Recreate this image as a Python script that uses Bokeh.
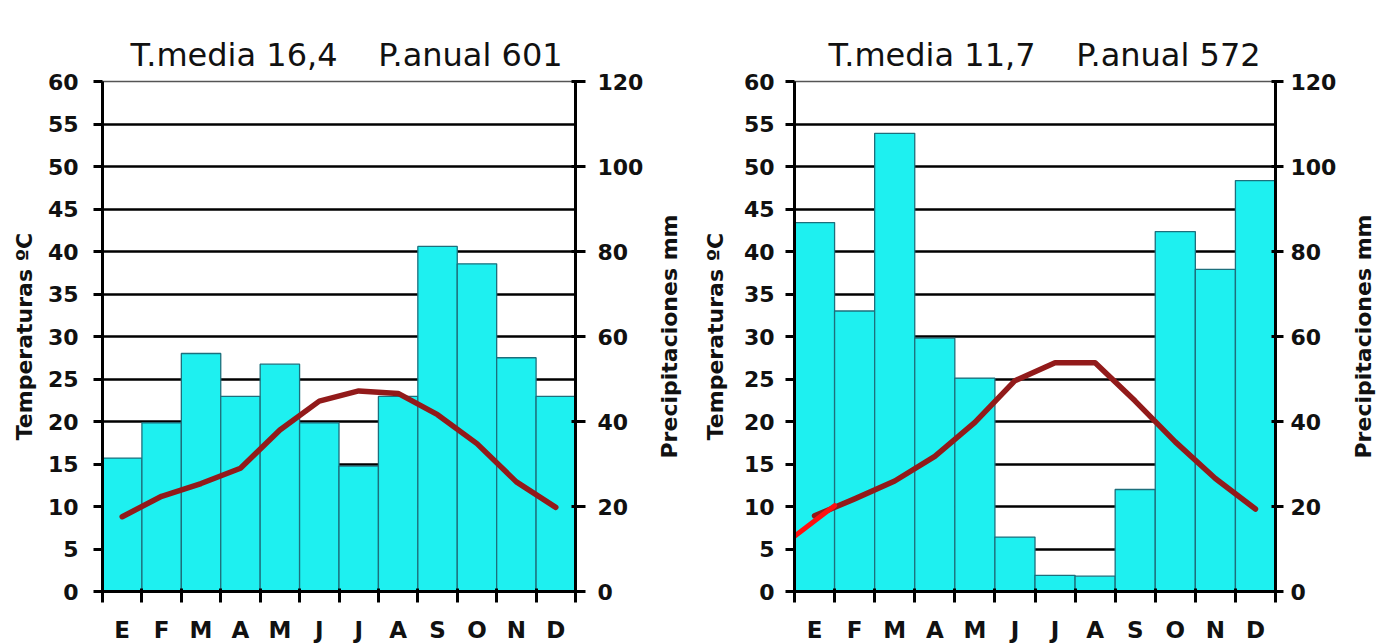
from bokeh.plotting import figure
from bokeh.models import Range1d, LinearAxis, FixedTicker
from bokeh.layouts import row
from bokeh.embed import file_html
from bokeh.resources import INLINE

# ---- data ----
meses = ["E", "F", "M", "A", "M", "J", "J", "A", "S", "O", "N", "D"]

GAP = "\u00a0" * 4

# Climograma 1
precip_1 = [31.4, 39.7, 56.0, 45.9, 53.5, 39.7, 29.5, 45.9, 81.2, 77.1, 55.0, 45.9]
temp_1 = [8.8, 11.2, 12.7, 14.5, 19.0, 22.4, 23.6, 23.3, 20.8, 17.4, 12.9, 9.9]
titulo_1 = "T.media 16,4" + GAP + "P.anual 601"

# Climograma 2
precip_2 = [86.8, 66.0, 107.8, 59.6, 50.2, 12.8, 3.8, 3.6, 24.0, 84.7, 75.8, 96.7]
temp_2 = [8.9, 10.9, 13.0, 15.9, 19.9, 24.8, 26.9, 26.9, 22.4, 17.6, 13.3, 9.7]
rojo_mes_2 = [-0.5, 0.5]
rojo_temp_2 = [6.5, 10.1]
titulo_2 = "T.media 11,7" + GAP + "P.anual 572"

temp_ticks = list(range(0, 61, 5))
precip_ticks = list(range(0, 121, 20))
grid_ticks = list(range(5, 56, 5))

ETIQ_T = "Temperaturas ºC"
ETIQ_P = "Precipitaciones mm"

FONT = "DejaVu Sans"
BAR_FILL = "#1ef0f0"
BAR_LINE = "#1d6f7c"
LINE_COLOR = "#921a1a"
TXT = "#111111"


def style_label(ax, text, standoff):
    ax.axis_label = text
    ax.axis_label_text_font = FONT
    ax.axis_label_text_font_style = "bold"
    ax.axis_label_text_font_size = "22px"
    ax.axis_label_text_color = TXT
    ax.axis_label_standoff = standoff


def label_only_axis(text, standoff):
    ax = LinearAxis(ticker=FixedTicker(ticks=[], minor_ticks=[]))
    ax.axis_line_color = None
    ax.major_tick_line_color = None
    ax.minor_tick_line_color = None
    ax.major_tick_out = 0
    ax.major_tick_in = 0
    ax.major_label_standoff = 0
    style_label(ax, text, standoff)
    return ax


def climograma(precip, temp, titulo, fw, bl, br, t_off,
               l_std, l_lbl_std, r_tick, r_std, rojo=None, outer_left=None):
    pos = list(range(len(meses)))
    p = figure(frame_width=fw, frame_height=510,
               min_border_left=bl, min_border_right=br,
               min_border_top=81, min_border_bottom=52,
               x_range=Range1d(-0.5, len(meses) - 0.5),
               y_range=Range1d(0, 60),
               output_backend="svg", toolbar_location=None, tools="")
    p.extra_y_ranges = {"precip": Range1d(0, 120)}
    p.background_fill_color = "white"
    p.border_fill_color = "white"
    p.outline_line_color = "#555555"
    p.outline_line_width = 1.5

    # title
    p.title.text = titulo
    p.title.align = "left"
    p.title.offset = t_off
    p.title.text_font = FONT
    p.title.text_font_style = "normal"
    p.title.text_font_size = "32px"
    p.title.text_color = TXT
    p.title.standoff = 15
    p.title.vertical_align = "bottom"

    p.xgrid.visible = False
    p.ygrid.ticker = FixedTicker(ticks=grid_ticks)
    p.ygrid.grid_line_color = "black"
    p.ygrid.grid_line_width = 2.6

    p.vbar(x=pos, top=precip, bottom=0, width=1.0, y_range_name="precip",
           fill_color=BAR_FILL, line_color=BAR_LINE, line_width=1.3)
    p.line(x=pos, y=temp, line_color=LINE_COLOR, line_width=5.5,
           line_join="round", line_cap="round")
    if rojo is not None:
        p.line(x=rojo[0], y=rojo[1], line_color="#ff1010", line_width=5,
               line_cap="round")

    # x axis
    xa = p.xaxis[0]
    xa.ticker = FixedTicker(ticks=pos, minor_ticks=[i - 0.5 for i in range(len(meses) + 1)])
    xa.major_label_overrides = {i: m for i, m in enumerate(meses)}
    xa.axis_line_width = 3
    xa.axis_line_color = "black"
    xa.major_tick_out = 0
    xa.major_tick_in = 0
    xa.minor_tick_out = 11
    xa.minor_tick_in = 3
    xa.minor_tick_line_width = 3
    xa.minor_tick_line_color = "black"
    xa.major_label_standoff = 14
    xa.major_label_text_font = FONT
    xa.major_label_text_font_style = "bold"
    xa.major_label_text_font_size = "23px"
    xa.major_label_text_color = TXT

    # left axis (temperature)
    ya = p.yaxis[0]
    ya.ticker = FixedTicker(ticks=temp_ticks, minor_ticks=[])
    ya.axis_line_width = 3
    ya.axis_line_color = "black"
    ya.major_tick_out = 9
    ya.major_tick_in = 0
    ya.major_tick_line_width = 3
    ya.major_tick_line_color = "black"
    ya.minor_tick_line_color = None
    ya.major_label_standoff = l_std
    ya.major_label_text_font = FONT
    ya.major_label_text_font_style = "bold"
    ya.major_label_text_font_size = "22px"
    ya.major_label_text_color = TXT
    style_label(ya, ETIQ_T, l_lbl_std)

    # label of the previous chart's precipitation axis (reads bottom to top)
    if outer_left is not None:
        p.add_layout(label_only_axis(*outer_left), "left")

    # right axis (precipitation scale)
    ra = LinearAxis(y_range_name="precip",
                    ticker=FixedTicker(ticks=precip_ticks, minor_ticks=[]))
    ra.axis_line_width = 3
    ra.axis_line_color = "black"
    ra.major_tick_out = r_tick
    ra.major_tick_in = 4
    ra.major_tick_line_width = 3
    ra.major_tick_line_color = "black"
    ra.minor_tick_line_color = None
    ra.major_label_standoff = r_std
    ra.major_label_text_font = FONT
    ra.major_label_text_font_style = "bold"
    ra.major_label_text_font_size = "22px"
    ra.major_label_text_color = TXT
    p.add_layout(ra, "right")
    return p


p1 = climograma(precip_1, temp_1, titulo_1,
                fw=473, bl=102, br=70, t_off=28,
                l_std=15, l_lbl_std=8, r_tick=10, r_std=12)
p2 = climograma(precip_2, temp_2, titulo_2,
                fw=481, bl=148, br=62, t_off=34,
                l_std=11, l_lbl_std=13, r_tick=8, r_std=7,
                rojo=(rojo_mes_2, rojo_temp_2), outer_left=(ETIQ_P, 18))

# narrow strip carrying the right chart's precipitation label
p3 = figure(frame_width=1, frame_height=510,
            min_border_left=38, min_border_right=0,
            min_border_top=81, min_border_bottom=52,
            x_range=Range1d(0, 1), y_range=Range1d(0, 1),
            output_backend="svg", toolbar_location=None, tools="")
p3.outline_line_color = None
p3.background_fill_color = "white"
p3.border_fill_color = "white"
p3.xaxis.visible = False
p3.grid.visible = False
p3.yaxis.visible = False
p3.add_layout(label_only_axis(ETIQ_P, 2), "left")

layout = row(p1, p2, p3)
open("out.html", "w").write(file_html(layout, INLINE))
